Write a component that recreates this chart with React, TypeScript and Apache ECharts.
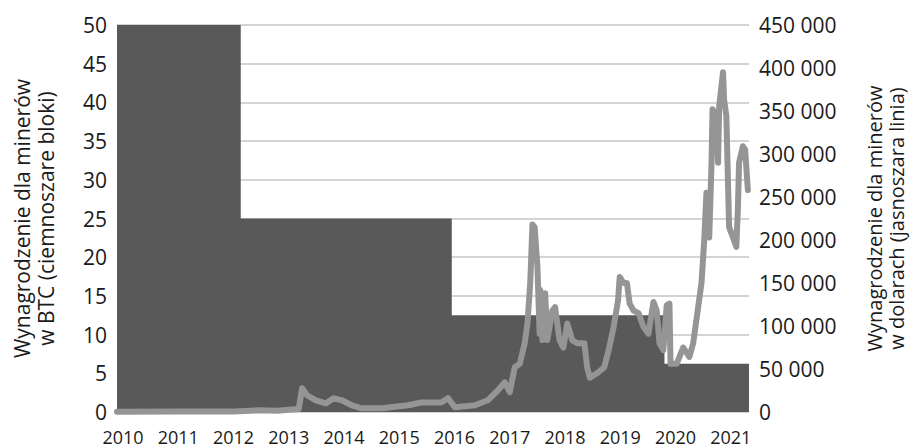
import React, { useEffect, useRef } from "react";
import * as echarts from "echarts";

// x positions are decimal years as placed on the reference's axis
const yearLabels = [2010, 2011, 2012, 2013, 2014, 2015, 2016, 2017, 2018, 2019, 2020, 2021];
const xMin = 2009.89;
const xMax = 2021.33;

// Block reward in BTC (dark step area)
const btcYears = [2009.89, 2012.13, 2012.13, 2015.95, 2015.95, 2019.8, 2019.8, 2021.33];
const btcValues = [50, 50, 25, 25, 12.5, 12.5, 6.25, 6.25];

// Reward in USD (light line)
const usdYears = [
  2009.89, 2011.0, 2012.0, 2012.46, 2012.8, 2013.0, 2013.18, 2013.24, 2013.33, 2013.49,
  2013.67, 2013.81, 2013.96, 2014.14, 2014.32, 2014.68, 2015.16, 2015.4, 2015.76, 2015.88,
  2016.01, 2016.37, 2016.6, 2016.78, 2016.91, 2017.0, 2017.09, 2017.18, 2017.27, 2017.32,
  2017.37, 2017.41, 2017.45, 2017.5, 2017.54, 2017.55, 2017.59, 2017.64, 2017.68, 2017.77,
  2017.82, 2017.9, 2017.97, 2018.04, 2018.13, 2018.22, 2018.35, 2018.4, 2018.45, 2018.58,
  2018.71, 2018.79, 2018.88, 2018.96, 2018.99, 2019.06, 2019.12, 2019.17, 2019.24, 2019.33,
  2019.42, 2019.51, 2019.6, 2019.66, 2019.71, 2019.78, 2019.84, 2019.89, 2019.91, 2020.02,
  2020.14, 2020.25, 2020.32, 2020.41, 2020.47, 2020.52, 2020.56, 2020.61, 2020.65, 2020.67,
  2020.74, 2020.77, 2020.79, 2020.86, 2020.88, 2020.92, 2020.95, 2020.97, 2021.04, 2021.1,
  2021.13, 2021.15, 2021.22, 2021.26, 2021.31,
];
const usdValues = [
  400, 500, 600, 2000, 1500, 2500, 3500, 27600, 19500, 13600,
  10000, 16000, 13600, 7800, 4300, 4300, 7800, 11000, 11000, 16000,
  5500, 7800, 13600, 25000, 34500, 23000, 52000, 56000, 80000, 103000,
  150000, 218000, 215000, 169000, 91000, 142000, 83600, 138000, 83600, 118000,
  122000, 83600, 75000, 103000, 83600, 80000, 80000, 52000, 40000, 45000,
  52000, 72000, 99000, 130000, 157000, 150000, 150000, 126000, 118000, 115000,
  99000, 91000, 128000, 118000, 80000, 72000, 124000, 126000, 56000, 56000,
  75000, 64000, 80000, 122000, 150000, 200000, 255000, 203000, 285000, 352000,
  344000, 290000, 355000, 395000, 363000, 344000, 266000, 215000, 203000, 192000,
  238000, 290000, 309000, 305000, 258000,
];

const leftAxisName = "Wynagrodzenie dla minerów\nw BTC (ciemnoszare bloki)";
const rightAxisName = "Wynagrodzenie dla minerów\nw dolarach (jasnoszara linia)";

const FONT = "Open Sans";
const TEXT = "#1a1a1a";

const fmtSpace = (v: number) => String(v).replace(/\B(?=(\d{3})+(?!\d))/g, " ");

export default function App() {
  const ref = useRef<HTMLDivElement>(null);
  useEffect(() => {
    if (!ref.current) return;
    const chart = echarts.init(ref.current, null, { renderer: "svg" });
    chart.setOption({
      animation: false,
      backgroundColor: "#ffffff",
      grid: { left: 117, right: 162, top: 25, bottom: 36 },
      xAxis: {
        type: "value",
        min: xMin,
        max: xMax,
        axisLine: { show: false },
        axisTick: { show: false },
        splitLine: { show: false },
        axisLabel: {
          customValues: yearLabels,
          formatter: (v: number) => String(Math.round(v)),
          color: TEXT,
          fontFamily: FONT,
          fontSize: 18,
          margin: 16,
        },
      },
      yAxis: [
        {
          type: "value",
          min: 0,
          max: 50,
          interval: 5,
          position: "left",
          name: leftAxisName,
          nameLocation: "middle",
          nameRotate: 90,
          nameGap: 59,
          nameTextStyle: { color: TEXT, fontFamily: FONT, fontSize: 21, lineHeight: 24 },
          axisLine: { show: false },
          axisTick: { show: false },
          axisLabel: { color: TEXT, fontFamily: FONT, fontSize: 21, margin: 10 },
          splitLine: { show: true, lineStyle: { color: "#d4d4d4", width: 2 } },
        },
        {
          type: "value",
          min: 0,
          max: 450000,
          interval: 50000,
          position: "right",
          name: rightAxisName,
          nameLocation: "middle",
          nameRotate: 90,
          nameGap: 114,
          nameTextStyle: { color: TEXT, fontFamily: FONT, fontSize: 20, lineHeight: 22 },
          axisLine: { show: false },
          axisTick: { show: false },
          axisLabel: {
            color: TEXT,
            fontFamily: FONT,
            fontSize: 21,
            margin: 10,
            formatter: fmtSpace,
          },
          splitLine: { show: false },
        },
      ],
      series: [
        {
          type: "line",
          yAxisIndex: 0,
          data: btcYears.map((y, i) => [y, btcValues[i]]),
          symbol: "none",
          lineStyle: { width: 0, color: "#595959" },
          areaStyle: { color: "#595959", opacity: 1 },
          z: 2,
        },
        {
          type: "line",
          yAxisIndex: 1,
          data: usdYears.map((y, i) => [y, usdValues[i]]),
          symbol: "none",
          lineStyle: { width: 6, color: "#959595", join: "round", cap: "round" },
          z: 3,
        },
      ],
    });
    return () => chart.dispose();
  }, []);
  return (
    <div
      ref={ref}
      style={{ position: "fixed", left: 0, top: 0, width: 915, height: 448 }}
    />
  );
}
